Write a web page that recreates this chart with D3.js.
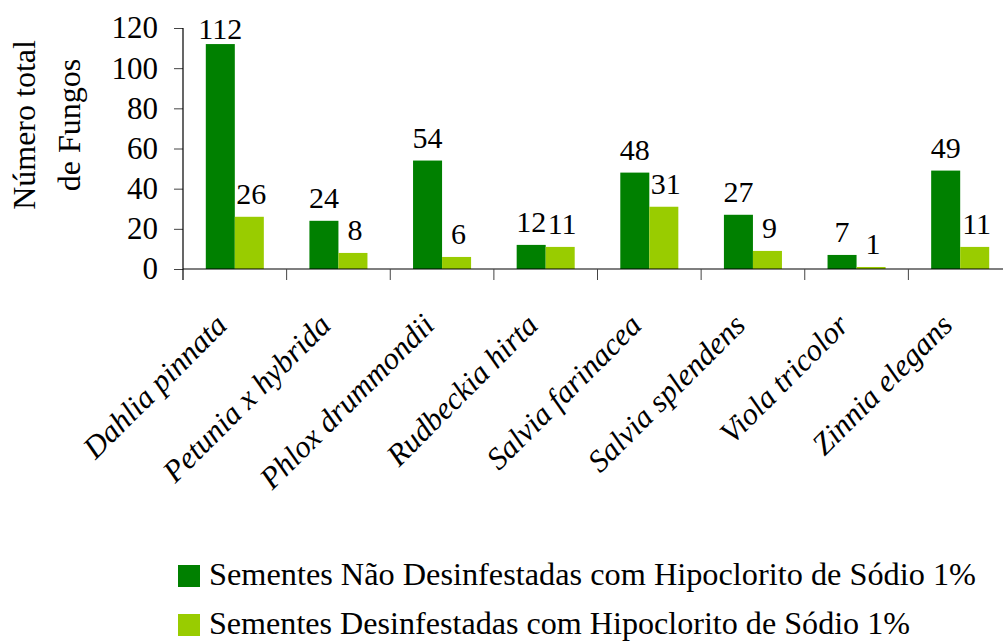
<!DOCTYPE html>
<html>
<head>
<meta charset="utf-8">
<script src="https://cdn.jsdelivr.net/npm/d3@7"></script>
<style>
  html, body { margin: 0; padding: 0; background: #fff; }
  svg { display: block; }
  text { font-family: "Liberation Serif", "Times New Roman", "Liberation Sans", Arial, sans-serif; fill: #000; }
</style>
</head>
<body>
<svg id="chart" width="1003" height="642"></svg>
<script>
// Species sampled
const categories = [
  "Dahlia pinnata", "Petunia x hybrida", "Phlox drummondii", "Rudbeckia hirta",
  "Salvia farinacea", "Salvia splendens", "Viola tricolor", "Zinnia elegans"
];
// Total fungi counted per species
const naoDesinfestadas = [112, 24, 54, 12, 48, 27, 7, 49];
const desinfestadas = [26, 8, 6, 11, 31, 9, 1, 11];
const seriesNames = [
  "Sementes Não Desinfestadas com Hipoclorito de Sódio 1%",
  "Sementes Desinfestadas com Hipoclorito de Sódio 1%"
];
const seriesColors = ["#008000", "#99CC00"];
const yTicks = [0, 20, 40, 60, 80, 100, 120];

const FONT = '"Liberation Serif", "Times New Roman", "Liberation Sans", Arial, sans-serif';
const svg = d3.select("#chart");
const W = 1003;

const plot = { left: 183, right: 1012, top: 28, bottom: 269 };

const x = d3.scaleBand()
  .domain(categories)
  .range([plot.left, plot.right])
  .paddingInner(0.44)
  .paddingOuter(0.22);

const x1 = d3.scaleBand()
  .domain([0, 1])
  .range([0, x.bandwidth()]);

const y = d3.scaleLinear()
  .domain([0, 120])
  .range([plot.bottom, plot.top]);

const rows = categories.map((c, i) => ({ cat: c, values: [naoDesinfestadas[i], desinfestadas[i]] }));

// Bars
const groups = svg.append("g").selectAll("g")
  .data(rows).join("g")
  .attr("transform", d => `translate(${x(d.cat)},0)`);

groups.selectAll("rect")
  .data(d => d.values.map((v, s) => ({ v, s })))
  .join("rect")
  .attr("x", d => x1(d.s))
  .attr("width", x1.bandwidth())
  .attr("y", d => y(d.v))
  .attr("height", d => y(0) - y(d.v))
  .attr("fill", d => seriesColors[d.s]);

// Value labels above each bar
groups.selectAll("text.val")
  .data(d => d.values.map((v, s) => ({ v, s })))
  .join("text")
  .attr("class", "val")
  .attr("x", d => x1(d.s) + x1.bandwidth() / 2 + (d.s === 1 ? 2 : 0))
  .attr("y", d => Math.max(y(d.v) - 13, 39))
  .attr("text-anchor", "middle")
  .style("font-family", FONT)
  .style("font-size", "30px")
  .text(d => d.v);

// Y axis
const yAxis = svg.append("g")
  .attr("transform", `translate(${plot.left},0)`)
  .call(d3.axisLeft(y).tickValues(yTicks).tickSize(9).tickPadding(16).tickSizeOuter(0));
yAxis.attr("font-family", null).attr("font-size", null);
yAxis.select(".domain").remove();
yAxis.selectAll(".tick line").attr("stroke", "#444");
yAxis.selectAll(".tick text")
  .style("font-size", "31px")
  .style("font-family", FONT)
  .attr("fill", "#000");

// Y axis line (extends down to the category ticks)
svg.append("line")
  .attr("x1", plot.left).attr("x2", plot.left)
  .attr("y1", plot.top).attr("y2", plot.bottom + 11)
  .attr("stroke", "#000").attr("stroke-width", 1.2);

// X axis line
svg.append("line")
  .attr("x1", plot.left).attr("x2", W)
  .attr("y1", plot.bottom).attr("y2", plot.bottom)
  .attr("stroke", "#000").attr("stroke-width", 1.2);

// Category boundary ticks
const bounds = d3.range(1, categories.length + 1).map(i => plot.left + i * x.step());
svg.append("g").selectAll("line")
  .data(bounds).join("line")
  .attr("x1", d => d).attr("x2", d => d)
  .attr("y1", plot.bottom).attr("y2", plot.bottom + 11)
  .attr("stroke", "#444");

// Category labels, rotated
svg.append("g").selectAll("text")
  .data(categories).join("text")
  .attr("transform", d => `translate(${x(d) + x.bandwidth() / 2 - 6},${plot.bottom + 58}) rotate(-45)`)
  .attr("text-anchor", "end")
  .style("font-family", FONT)
  .style("font-size", "31px")
  .style("font-style", "italic")
  .text(d => d);

// Y axis title
const yTitle = svg.append("text")
  .attr("transform", "translate(0,125) rotate(-90)")
  .attr("text-anchor", "middle")
  .style("font-family", FONT)
  .style("font-size", "32px");
yTitle.append("tspan").attr("x", 0).attr("y", 35).text("Número total");
yTitle.append("tspan").attr("x", 0).attr("y", 80).text("de Fungos");

// Legend
const legendWidths = [767, 701];
const legend = svg.append("g");
seriesNames.forEach((name, i) => {
  const ly = 565 + i * 49;
  legend.append("rect")
    .attr("x", 178).attr("y", ly)
    .attr("width", 22).attr("height", 22)
    .attr("fill", seriesColors[i]);
  legend.append("text")
    .attr("x", 209).attr("y", ly + 20)
    .attr("textLength", legendWidths[i])
    .attr("lengthAdjust", "spacingAndGlyphs")
    .style("font-family", FONT)
    .style("font-size", "31px")
    .text(name);
});
</script>
</body>
</html>
